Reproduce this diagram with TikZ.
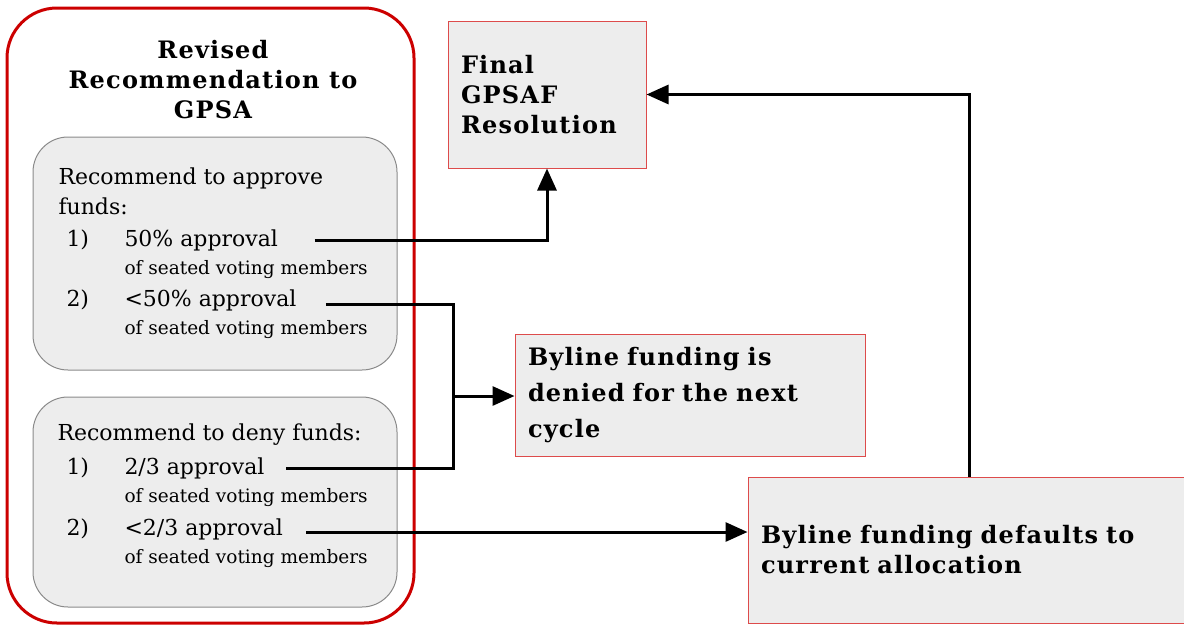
\documentclass[tikz,border=0pt]{standalone}
\usepackage{fontspec}
\setmainfont{DejaVu Serif}
\usetikzlibrary{arrows.meta}
\definecolor{boxgray}{HTML}{EDEDED}
\definecolor{outerred}{HTML}{CC0000}
\definecolor{boxred}{HTML}{DD4B4B}
\definecolor{innergray}{HTML}{8A8A8A}
\newcommand{\headfont}[1]{\fontsize{24}{#1}\selectfont\bfseries\addfontfeature{LetterSpace=5}}

\begin{document}
\begin{tikzpicture}[x=1pt,y=-1pt,->,>={Triangle[length=22pt,width=19pt]},line width=3pt]
  \tikzstyle{result}=[draw=boxred,line width=1pt,fill=boxgray,align=left,inner sep=13pt,font=\headfont{30}]
  \tikzstyle{option}=[draw=innergray,line width=1pt,fill=boxgray,rounded corners=35pt]
  \tikzstyle{item}=[anchor=west,inner sep=0pt,align=left,font=\fontsize{22}{30}\selectfont]
  \tikzstyle{small}=[anchor=west,inner sep=0pt,font=\fontsize{18.5}{20}\selectfont]

  \useasboundingbox (0,0) rectangle (1184,625);

  % left panel
  \node[draw=outerred,line width=3pt,rounded corners=50pt,minimum width=407pt,minimum height=615pt] (recbox) at (210.5,315.5) {};
  \node[align=center,font=\headfont{30}] (title) at (213,80) {Revised\\Recommendation to\\GPSA};

  \node[option,minimum width=364pt,minimum height=233pt] (approve) at (215,253.5) {};
  \node[item] (aphead) at (57,191) {Recommend to approve\\funds:};
  \node[item] (n1a) at (65,240) {1)};
  \node[item] (a50) at (123,240) {50\% approval};
  \node[small] (s1a) at (123,270) {of seated voting members};
  \node[item] (n2a) at (65,300) {2)};
  \node[item] (l50) at (123,300) {<50\% approval};
  \node[small] (s2a) at (123,330) {of seated voting members};

  \node[option,minimum width=364pt,minimum height=210pt] (deny) at (215,502) {};
  \node[item] (dnhead) at (56,435) {Recommend to deny funds:};
  \node[item] (n1d) at (65,468) {1)};
  \node[item] (t23) at (123,468) {2/3 approval};
  \node[small] (s1d) at (123,498) {of seated voting members};
  \node[item] (n2d) at (65,529) {2)};
  \node[item] (l23) at (123,529) {<2/3 approval};
  \node[small] (s2d) at (123,559) {of seated voting members};

  % outcomes
  \node[result,minimum width=198pt,minimum height=147pt,text width=172pt] (final) at (547,94.5) {Final\\GPSAF\\Resolution};
  \node[result,minimum width=350pt,minimum height=119pt,text width=324pt,font=\headfont{36}] (denied) at (690,395.5) {Byline funding is\\denied for the next\\cycle};
  \node[result,minimum width=436pt,minimum height=146pt,text width=410pt] (defaults) at (966,550) {Byline funding defaults to\\current allocation};

  \coordinate (jn) at (453,396);

  \draw ([xshift=35pt]a50.east) -| (final.south);
  \draw[-] ([xshift=28pt,yshift=-4pt]l50.east) -| (jn) |- ([xshift=20pt]t23.east);
  \draw (jn) -- (jn -| denied.west);
  \draw ([xshift=22pt,yshift=-3pt]l23.east) -- ([yshift=-3pt]l23.east -| defaults.west);
  \draw ([xshift=3pt]defaults.north) |- (final.east);
\end{tikzpicture}
\end{document}
